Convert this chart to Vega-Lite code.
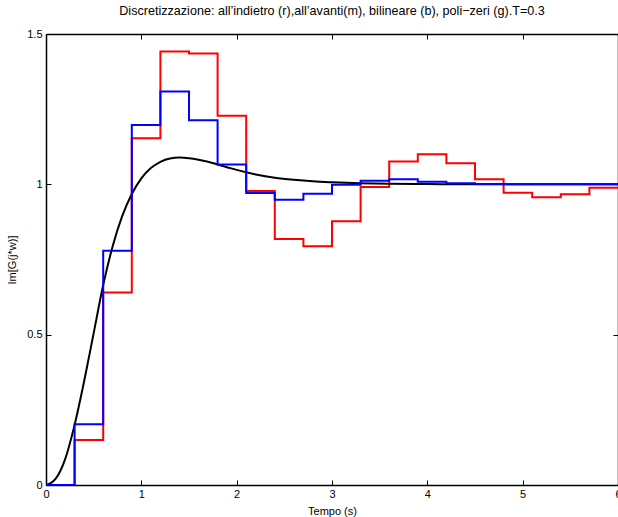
{
  "$schema": "https://vega.github.io/schema/vega-lite/v6.json",
  "width": 572,
  "height": 451,
  "autosize": {"type": "none"},
  "padding": {"left": 46, "top": 34, "right": 0, "bottom": 32},
  "background": "white",
  "config": {
    "font": "Liberation Sans",
    "view": {"stroke": null},
    "axis": {"grid": false, "domainColor": "black", "domainWidth": 1.5, "tickColor": "black", "tickWidth": 1, "tickSize": -5, "labelColor": "black", "labelFontSize": 11, "labelFont": "Liberation Sans", "titleFont": "Liberation Sans", "titleFontSize": 11, "titleFontWeight": "normal", "titleColor": "black"}
  },
  "title": {"text": "Discretizzazione: all’indietro (r),all’avanti(m), bilineare (b), poli−zeri (g).T=0.3", "fontSize": 12.6, "fontWeight": "normal", "font": "Liberation Sans", "color": "black", "offset": 10, "anchor": "middle"},
  "datasets": {
    "curve": [
      {"t": 0, "v": 0}, {"t": 0.05, "v": 0.006}, {"t": 0.1, "v": 0.02}, {"t": 0.2, "v": 0.085}, {"t": 0.3, "v": 0.2},
      {"t": 0.4, "v": 0.345}, {"t": 0.5, "v": 0.505}, {"t": 0.6, "v": 0.665}, {"t": 0.7, "v": 0.795},
      {"t": 0.8, "v": 0.895}, {"t": 0.9, "v": 0.968}, {"t": 1.0, "v": 1.02}, {"t": 1.1, "v": 1.054},
      {"t": 1.2, "v": 1.075}, {"t": 1.3, "v": 1.086}, {"t": 1.4, "v": 1.089}, {"t": 1.5, "v": 1.087},
      {"t": 1.6, "v": 1.082}, {"t": 1.7, "v": 1.075}, {"t": 1.8, "v": 1.066}, {"t": 1.9, "v": 1.057},
      {"t": 2.0, "v": 1.048}, {"t": 2.2, "v": 1.033}, {"t": 2.4, "v": 1.022}, {"t": 2.6, "v": 1.015},
      {"t": 2.8, "v": 1.01}, {"t": 3.0, "v": 1.007}, {"t": 3.3, "v": 1.004}, {"t": 3.6, "v": 1.002},
      {"t": 4.0, "v": 1.001}, {"t": 4.5, "v": 1.0}, {"t": 6.0, "v": 1.0}
    ],
    "red": [
      {"t": 0, "v": 0}, {"t": 0.3, "v": 0.15}, {"t": 0.6, "v": 0.64}, {"t": 0.9, "v": 1.153}, {"t": 1.2, "v": 1.442},
      {"t": 1.5, "v": 1.435}, {"t": 1.8, "v": 1.228}, {"t": 2.1, "v": 0.978}, {"t": 2.4, "v": 0.818}, {"t": 2.7, "v": 0.794},
      {"t": 3.0, "v": 0.877}, {"t": 3.3, "v": 0.991}, {"t": 3.6, "v": 1.076}, {"t": 3.9, "v": 1.1}, {"t": 4.2, "v": 1.07},
      {"t": 4.5, "v": 1.017}, {"t": 4.8, "v": 0.972}, {"t": 5.1, "v": 0.957}, {"t": 5.4, "v": 0.967}, {"t": 5.7, "v": 0.989},
      {"t": 6.0, "v": 0.989}
    ],
    "blue": [
      {"t": 0, "v": 0}, {"t": 0.3, "v": 0.202}, {"t": 0.6, "v": 0.779}, {"t": 0.9, "v": 1.197}, {"t": 1.2, "v": 1.309},
      {"t": 1.5, "v": 1.213}, {"t": 1.8, "v": 1.066}, {"t": 2.1, "v": 0.971}, {"t": 2.4, "v": 0.949}, {"t": 2.7, "v": 0.969},
      {"t": 3.0, "v": 0.999}, {"t": 3.3, "v": 1.012}, {"t": 3.6, "v": 1.017}, {"t": 3.9, "v": 1.009}, {"t": 4.2, "v": 1.004},
      {"t": 4.5, "v": 1.001}, {"t": 4.8, "v": 1.0}, {"t": 5.1, "v": 1.0}, {"t": 5.4, "v": 1.0}, {"t": 5.7, "v": 1.0},
      {"t": 6.0, "v": 1.0}
    ]
  },
  "resolve": {"axis": {"x": "independent", "y": "independent"}},
  "layer": [
    {
      "data": {"name": "red"},
      "mark": {"type": "line", "interpolate": "step-after", "color": "#ff0000", "strokeWidth": 2, "clip": true},
      "encoding": {
        "x": {"field": "t", "type": "quantitative", "scale": {"domain": [0, 6], "nice": false, "zero": false},
              "axis": {"orient": "top", "values": [0, 1, 2, 3, 4, 5, 6], "labels": false, "title": null}},
        "y": {"field": "v", "type": "quantitative", "scale": {"domain": [0, 1.5], "nice": false},
              "axis": {"orient": "right", "values": [0, 0.5, 1, 1.5], "labels": false, "title": null}}
      }
    },
    {
      "data": {"name": "curve"},
      "mark": {"type": "line", "interpolate": "monotone", "color": "#000000", "strokeWidth": 2, "clip": true},
      "encoding": {
        "x": {"field": "t", "type": "quantitative",
              "axis": {"orient": "bottom", "values": [0, 1, 2, 3, 4, 5, 6], "format": "~g", "labelPadding": 8, "labelFlush": false, "title": "Tempo (s)", "titleX": 286, "titleY": 29, "titleBaseline": "alphabetic", "titleAnchor": null}},
        "y": {"field": "v", "type": "quantitative",
              "axis": {"orient": "left", "values": [0, 0.5, 1, 1.5], "format": "~g", "labelPadding": 9, "labelFlush": false, "title": "Im[G(j*w)]", "titleX": -34, "titleY": 225.5, "titleAngle": -90, "titleBaseline": "middle", "titleAlign": "center"}}
      }
    },
    {
      "data": {"name": "blue"},
      "mark": {"type": "line", "interpolate": "step-after", "color": "#0000ff", "strokeWidth": 2, "clip": true},
      "encoding": {
        "x": {"field": "t", "type": "quantitative", "axis": null},
        "y": {"field": "v", "type": "quantitative", "axis": null}
      }
    }
  ]
}
